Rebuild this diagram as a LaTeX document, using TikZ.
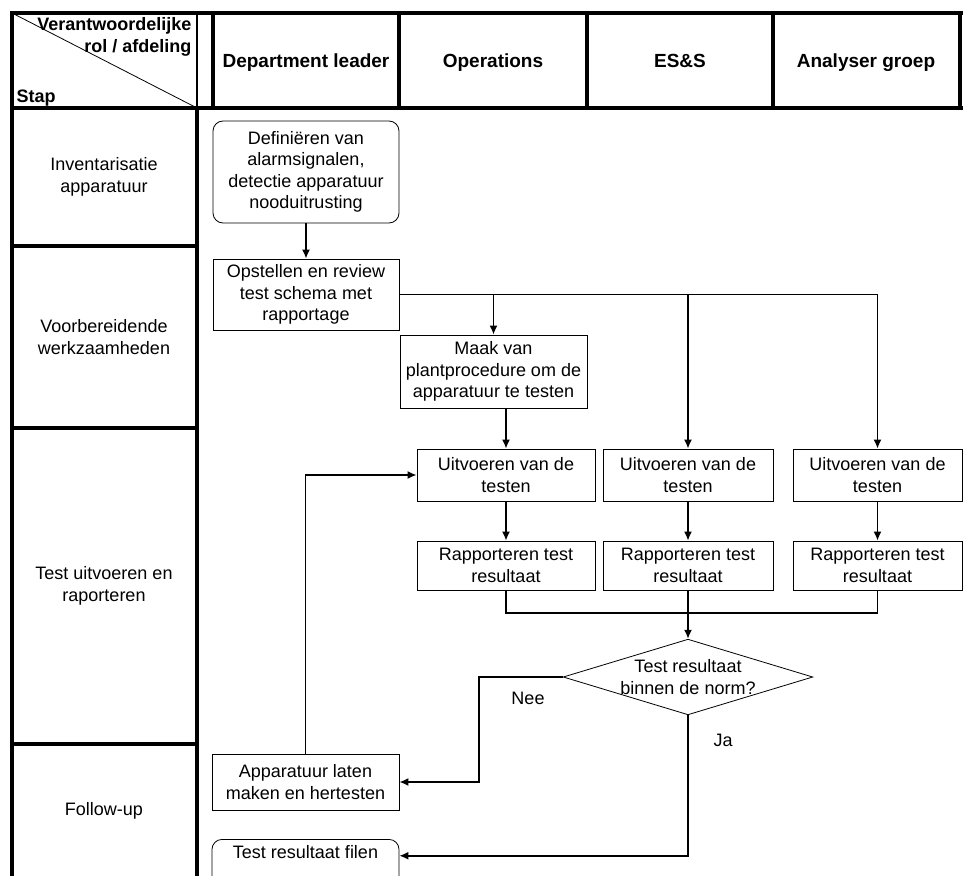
\documentclass[tikz,border=0pt]{standalone}
\usepackage{fontspec}
\setmainfont{Liberation Sans}
\usetikzlibrary{positioning}
\usetikzlibrary{shapes.geometric}
\usetikzlibrary{arrows.meta}

\begin{document}
\begin{tikzpicture}[x=1pt, y=-1pt,
                        every node/.style={font=\fontsize{18}{21.5}\selectfont, align=center},
                        kop/.style={font=\fontsize{19}{22}\selectfont\bfseries, text height=14pt, text depth=4pt},
                        hoek/.style={font=\fontsize{18}{21.5}\selectfont\bfseries},
                        taak/.style={draw, line width=0.8pt, inner sep=0pt},
                        start/.style={taak, rounded corners=10pt},
                        keuze/.style={draw, diamond, aspect=3.3, inner sep=0pt, line width=0.8pt},
                        rand/.style={line width=3.4pt, line cap=rect},
                        lijn/.style={draw, line width=1.6pt},
                        pijl/.style={lijn, -{Latex[length=9pt, width=8pt]}}]

            \useasboundingbox (0,0) rectangle (963,875);

            % raster
            \draw[rand] (12,13) -- (963,13);
            \draw[rand] (12,108) -- (963,108);
            \draw[rand] (12,13) -- (12,880);
            \draw[rand] (197,108) -- (197,880);
            \draw[line width=2pt] (197,13) -- (197,108);
            \foreach \x in {213,399,587,773,960}
                \draw[rand] (\x,13) -- (\x,108);
            \foreach \y in {246,428,744}
                \draw[rand] (12,\y) -- (197,\y);
            \draw[line width=0.8pt] (12,13) -- (197,108);

            \node[hoek, anchor=east, align=right] (rol) at (195,37) {Verantwoordelijke\\rol / afdeling};
            \node[hoek, anchor=west] (stap) at (13,98) {Stap};

            \node[kop] (leader) at (306,62) {Department leader};
            \node[kop] (operations) at (493,62) {Operations};
            \node[kop] (ess) at (680,62) {ES\&S};
            \node[kop] (analyser) at (866,62) {Analyser groep};

            \node (inventaris) at (104,177) {Inventarisatie\\apparatuur};
            \node (voorbereiding) at (104,337) {Voorbereidende\\werkzaamheden};
            \node (testen) at (104,586) {Test uitvoeren en\\raporteren};
            \node (followup) at (104,811) {Follow-up};

            % stappen
            \node[start, minimum width=186, minimum height=102] (definieren) at (306,172)
                {Definiëren van\\alarmsignalen,\\detectie apparatuur\\nooduitrusting};
            \node[taak, minimum width=186, minimum height=71] (opstellen) at (306,294.5)
                {Opstellen en review\\test schema met\\rapportage};
            \node[taak, minimum width=187, minimum height=73] (maak) at (493.5,371.5)
                {Maak van\\plantprocedure om de\\apparatuur te testen};

            \node[taak, minimum width=178, minimum height=52] (uitvoeren1) at (506,475) {Uitvoeren van de\\testen};
            \node[taak, minimum width=170, minimum height=52] (uitvoeren2) at (688,475) {Uitvoeren van de\\testen};
            \node[taak, minimum width=169, minimum height=52] (uitvoeren3) at (877.5,475) {Uitvoeren van de\\testen};

            \node[taak, minimum width=178, minimum height=49] (rapport1) at (506,565.5) {Rapporteren test\\resultaat};
            \node[taak, minimum width=170, minimum height=49] (rapport2) at (688,565.5) {Rapporteren test\\resultaat};
            \node[taak, minimum width=169, minimum height=49] (rapport3) at (877.5,565.5) {Rapporteren test\\resultaat};

            \node[keuze] (norm) at (688,677) {Test resultaat\\binnen de norm?};

            \node[taak, minimum width=187, minimum height=56] (hertesten) at (305.5,782)
                {Apparatuur laten\\maken en hertesten};
            \node[start, anchor=north, minimum width=187, inner ysep=6pt, text height=13pt, text depth=30pt]
                (filen) at (305.5,839) {Test resultaat filen};

            \node (nee) at (528,698) {Nee};
            \node (ja) at (723,740) {Ja};

            \coordinate (samen) at (688,613);
            \coordinate (terug) at (479,677);

            % verbindingen
            \draw[pijl] (definieren) -- (opstellen);
            \draw[pijl] (opstellen.east) -| (maak.north);
            \draw[pijl] (opstellen.east) -| (uitvoeren2.north);
            \draw[pijl] (opstellen.east) -| (uitvoeren3.north);
            \draw[pijl] (maak.south -| uitvoeren1.north) -- (uitvoeren1.north);
            \draw[pijl] (uitvoeren1) -- (rapport1);
            \draw[pijl] (uitvoeren2) -- (rapport2);
            \draw[pijl] (uitvoeren3) -- (rapport3);
            \draw[lijn] (rapport1.south) |- (rapport3.south |- samen) -- (rapport3.south);
            \draw[lijn] (rapport2.south) -- (samen);
            \draw[pijl] (samen) -- (norm.north);
            \draw[pijl] (norm.west) -- (terug) |- (hertesten.east);
            \draw[pijl] (norm.south) |- (filen.mid east);
            \draw[pijl] (hertesten.north) |- (uitvoeren1.west);

        \end{tikzpicture}
\end{document}
